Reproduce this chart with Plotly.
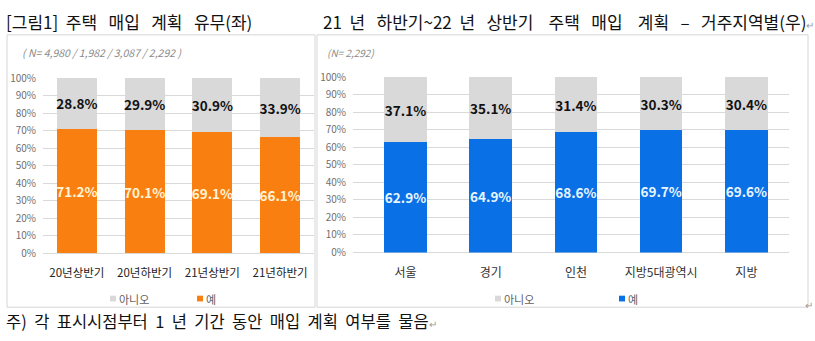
import plotly.graph_objects as go

# ---- data ----
periods = ["20년상반기", "20년하반기", "21년상반기", "21년하반기"]
period_yes = [71.2, 70.1, 69.1, 66.1]
period_no = [28.8, 29.9, 30.9, 33.9]

regions = ["서울", "경기", "인천", "지방5대광역시", "지방"]
region_yes = [62.9, 64.9, 68.6, 69.7, 69.6]
region_no = [37.1, 35.1, 31.4, 30.3, 30.4]

y_ticks = list(range(0, 101, 10))
y_tick_text = [f"{v}%" for v in y_ticks]

# ---- styling ----
W, H = 815, 341
FONT = "Noto Sans CJK KR"
ORANGE = "#F98010"
BLUE = "#0A70E6"
GREY = "#D9D9D9"
GRID = "#D9D9D9"


def px(x):
    return x / W


def py(y):
    return 1 - y / H


fig = go.Figure()


def add_pair(x, yes, no, yes_color, label_color, xa, ya, width):
    fig.add_trace(go.Bar(
        x=x, y=yes, name="예", marker=dict(color=yes_color, line=dict(width=0)),
        width=width, xaxis=xa, yaxis=ya,
        texttemplate="%{y:.1f}%", textposition="inside", insidetextanchor="middle",
        textangle=0, constraintext="none",
        textfont=dict(family=FONT, size=13.5, color=label_color, weight="bold"),
        showlegend=False, hoverinfo="skip",
    ))
    fig.add_trace(go.Bar(
        x=x, y=no, name="아니오", marker=dict(color=GREY, line=dict(width=0)),
        width=width, xaxis=xa, yaxis=ya,
        texttemplate="%{y:.1f}%", textposition="inside", insidetextanchor="middle",
        textangle=0, constraintext="none",
        textfont=dict(family=FONT, size=13.5, color="#111111", weight="bold"),
        showlegend=False, hoverinfo="skip",
    ))


add_pair(periods, period_yes, period_no, ORANGE, "#FFF4D6", "x", "y", 0.59)
add_pair(regions, region_yes, region_no, BLUE, "#E8F6FF", "x2", "y2", 0.5)

yaxis_common = dict(
    range=[0, 100], tickvals=y_ticks, ticktext=y_tick_text,
    showgrid=True, gridcolor=GRID, gridwidth=1,
    zeroline=True, zerolinecolor=GRID, zerolinewidth=1,
    showline=False, ticks="", ticklabelstandoff=6,
    tickfont=dict(family=FONT, size=10, color="#707070"),
)
xaxis_common = dict(
    type="category", showgrid=False, showline=False, ticks="",
    zeroline=False, ticklabelstandoff=11,
)

fig.update_layout(
    width=W, height=H,
    margin=dict(l=0, r=0, t=0, b=0),
    paper_bgcolor="white", plot_bgcolor="white",
    barmode="stack",
    font=dict(family=FONT),
    xaxis=dict(domain=[px(43), px(314)], range=[-0.5, 3.5], anchor="y",
               tickfont=dict(family=FONT, size=11.5, color="#222222"), **xaxis_common),
    yaxis=dict(domain=[py(256), py(73)], anchor="x", **yaxis_common),
    xaxis2=dict(domain=[px(353), px(789)], range=[-0.616, 4.5], anchor="y2",
                tickfont=dict(family=FONT, size=12, color="#333333"), **xaxis_common),
    yaxis2=dict(domain=[py(255), py(72)], anchor="x2", **yaxis_common),
)

shapes = [
    # panel frames
    dict(type="rect", xref="paper", yref="paper", x0=px(7), x1=px(315), y0=py(312), y1=py(28),
         line=dict(color="#D6D6D6", width=1), fillcolor="rgba(0,0,0,0)", layer="below"),
    dict(type="rect", xref="paper", yref="paper", x0=px(317), x1=px(808), y0=py(312), y1=py(28),
         line=dict(color="#D6D6D6", width=1), fillcolor="rgba(0,0,0,0)", layer="below"),
]

# legend swatches
legend_items = [
    (110, GREY, "아니오"),
    (197, ORANGE, "예"),
    (495, GREY, "아니오"),
    (619, BLUE, "예"),
]
annotations = []
for x0, color, label in legend_items:
    shapes.append(dict(type="rect", xref="paper", yref="paper",
                       x0=px(x0), x1=px(x0 + 6), y0=py(306), y1=py(300),
                       line=dict(width=0), fillcolor=color))
    annotations.append(dict(xref="paper", yref="paper", x=px(x0 + 7), y=py(303),
                            xanchor="left", yanchor="middle", showarrow=False,
                            text=label, font=dict(family=FONT, size=11, color="#606060")))

NB = "\u00a0"
RET = "<span style='color:#9a9a9a;font-size:10px'>↵</span>"

annotations += [
    dict(xref="paper", yref="paper", x=px(4), y=py(14), xanchor="left", yanchor="middle",
         showarrow=False,
         text=f"[그림1]{NB*2}주택{NB*3}매입{NB*3}계획{NB*3}유무(좌)",
         font=dict(family=FONT, size=17, color="#111111")),
    dict(xref="paper", yref="paper", x=px(321), y=py(14), xanchor="left", yanchor="middle",
         showarrow=False,
         text=(f"21{NB*2}년{NB*3}하반기~22{NB*2}년{NB*3}상반기{NB*4}주택{NB*3}매입{NB*4}"
               f"계획{NB*3}–{NB*3}거주지역별(우)") + RET,
         font=dict(family=FONT, size=17, color="#111111")),
    dict(xref="paper", yref="paper", x=px(20), y=py(46), xanchor="left", yanchor="middle",
         showarrow=False, text="<i>( N= 4,980 / 1,982 / 3,087 / 2,292 )</i>",
         font=dict(family=FONT, size=10.5, color="#8a8a8a")),
    dict(xref="paper", yref="paper", x=px(325), y=py(46), xanchor="left", yanchor="middle",
         showarrow=False, text="<i>(N= 2,292)</i>",
         font=dict(family=FONT, size=10, color="#8a8a8a")),
    dict(xref="paper", yref="paper", x=px(4), y=py(326), xanchor="left", yanchor="middle",
         showarrow=False,
         text=(f"주){NB*2}각{NB*2}표시시점부터{NB*2}1{NB*2}년{NB*2}기간{NB*2}동안{NB*2}"
               f"매입{NB*2}계획{NB*2}여부를{NB*2}물음") + RET,
         font=dict(family=FONT, size=16.5, color="#111111")),
    dict(xref="paper", yref="paper", x=px(815), y=py(309), xanchor="right", yanchor="middle",
         showarrow=False, text=RET, font=dict(family=FONT, size=10, color="#9a9a9a")),
]

fig.update_layout(shapes=shapes, annotations=annotations)

fig.write_html("out.html")
